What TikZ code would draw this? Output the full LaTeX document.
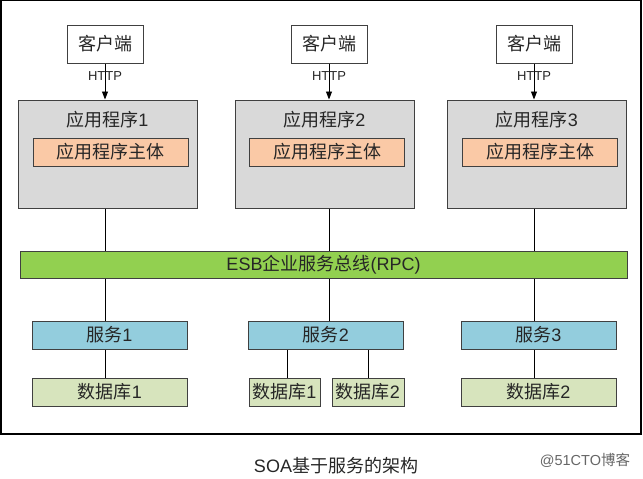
\documentclass[tikz,border=0pt]{standalone}
\usepackage{fontspec}
\setmainfont{Liberation Sans}
\newfontfamily\cjk{Noto Sans CJK SC}
\usetikzlibrary{arrows.meta}

\definecolor{appgray}{HTML}{D9D9D9}
\definecolor{bodyorange}{HTML}{FAC9A6}
\definecolor{esbgreen}{HTML}{92D050}
\definecolor{svcblue}{HTML}{93CDDD}
\definecolor{dbgreen}{HTML}{D7E4BD}

\begin{document}
\begin{tikzpicture}[x=1pt,y=-1pt,>={Triangle[length=8pt,width=6pt]},
  box/.style={draw=black!75,line width=1pt,inner sep=0pt,text=black!85,
    font=\fontsize{18}{20}\selectfont},
  client/.style={box,fill=white,minimum width=76pt,minimum height=38pt},
  app/.style={box,fill=appgray,minimum width=179pt,minimum height=108pt},
  body/.style={box,fill=bodyorange,minimum width=155pt,minimum height=28pt},
  svc/.style={box,fill=svcblue,minimum width=155pt,minimum height=28pt},
  db/.style={box,fill=dbgreen,minimum width=155pt,minimum height=28pt},
  smalldb/.style={db,minimum width=72pt},
  link/.style={line width=0.9pt,black}]
  \useasboundingbox (0,0) rectangle (643,479);
  \draw[line width=1.3pt] (1,0) rectangle (641,434);

  % clients
  \node[client] (cli1) at (105,44) {\cjk 客户端};
  \node[client] (cli2) at (329,44) {\cjk 客户端};
  \node[client] (cli3) at (534,44) {\cjk 客户端};

  % applications
  \node[app] (app1) at (107.5,154) {};
  \node[app] (app2) at (324.5,154) {};
  \node[app] (app3) at (537,154) {};
  \node[box,draw=none] (title1) at ([yshift=-20pt]app1.north) {{\cjk 应用程序}1};
  \node[box,draw=none] (title2) at ([yshift=-20pt]app2.north) {{\cjk 应用程序}2};
  \node[box,draw=none] (title3) at ([yshift=-20pt]app3.north) {{\cjk 应用程序}3};
  \node[body] (body1) at (110.5,152) {\cjk 应用程序主体};
  \node[body] (body2) at (327,152) {\cjk 应用程序主体};
  \node[body] (body3) at (540,152) {\cjk 应用程序主体};

  % bus
  \node[box,fill=esbgreen,minimum width=607pt,minimum height=27pt] (esb) at (323.5,264.5)
    {ESB{\cjk 企业服务总线}(RPC)};

  % services and databases
  \node[svc] (svc1) at (109.5,335) {{\cjk 服务}1};
  \node[svc] (svc2) at (326,335) {{\cjk 服务}2};
  \node[svc] (svc3) at (538.5,335) {{\cjk 服务}3};
  \node[db] (db1) at (110,392) {{\cjk 数据库}1};
  \node[smalldb,minimum width=71pt] (db2a) at (284.5,392) {{\cjk 数据库}1};
  \node[smalldb] (db2b) at (368,392) {{\cjk 数据库}2};
  \node[db] (db3) at (538.5,392) {{\cjk 数据库}2};

  \foreach \i in {1,2,3}{
    \draw[link,->] (cli\i.south) -- (cli\i |- app\i.north)
      node[pos=.36,font=\fontsize{13}{14}\selectfont,text=black!85]{HTTP};
    \draw[link] (app\i.south -| cli\i) -- (cli\i |- esb.north);
    \draw[link] (esb.south -| cli\i) -- (cli\i |- svc\i.north);
  }
  \draw[link] (svc1.south -| cli1) -- (cli1 |- db1.north);
  \draw[link] (svc3.south -| cli3) -- (cli3 |- db3.north);
  \draw[link] ([xshift=2.5pt]db2a.north) -- ([xshift=2.5pt]db2a.north |- svc2.south);
  \draw[link] (db2b.north) -- (db2b |- svc2.south);

  % caption
  \node[text=black!85,font=\fontsize{18}{20}\selectfont] (caption) at (336,466)
    {SOA{\cjk 基于服务的架构}};
  \node[text=black!60,font=\fontsize{14.5}{16}\selectfont] (mark) at (585,460)
    {@51CTO{\cjk 博客}};
\end{tikzpicture}
\end{document}
